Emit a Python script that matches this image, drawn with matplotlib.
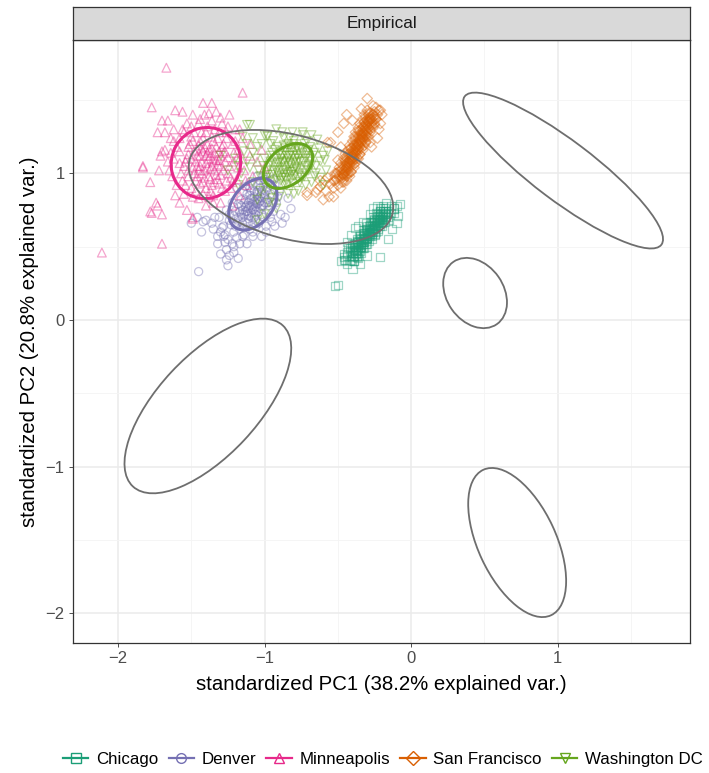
import matplotlib.pyplot as plt
import numpy as np
from matplotlib.patches import Ellipse, Rectangle
from matplotlib.lines import Line2D

plt.rcParams['font.family'] = ['Liberation Sans', 'DejaVu Sans']

# scores on the first two standardized PCs, per city
chicago = [
    (-0.38, 0.48), (-0.36, 0.50), (-0.34, 0.53), (-0.32, 0.55), (-0.30, 0.58), (-0.28, 0.60), (-0.26, 0.63),
    (-0.24, 0.65), (-0.22, 0.68), (-0.20, 0.70), (-0.18, 0.73), (-0.37, 0.44), (-0.35, 0.47), (-0.33, 0.49),
    (-0.31, 0.52), (-0.29, 0.54), (-0.27, 0.57), (-0.25, 0.59), (-0.23, 0.62), (-0.21, 0.64), (-0.19, 0.67),
    (-0.17, 0.70), (-0.39, 0.52), (-0.37, 0.54), (-0.35, 0.57), (-0.33, 0.59), (-0.31, 0.62), (-0.29, 0.64),
    (-0.27, 0.67), (-0.25, 0.69), (-0.23, 0.72), (-0.21, 0.74), (-0.19, 0.76), (-0.36, 0.46), (-0.33, 0.52),
    (-0.30, 0.55), (-0.28, 0.57), (-0.26, 0.60), (-0.25, 0.64), (-0.22, 0.66), (-0.21, 0.70), (-0.18, 0.69),
    (-0.16, 0.72), (-0.32, 0.57), (-0.29, 0.60), (-0.27, 0.62), (-0.24, 0.60), (-0.20, 0.66), (-0.34, 0.50),
    (-0.38, 0.45), (-0.40, 0.50), (-0.41, 0.44), (-0.36, 0.42), (-0.075, 0.79), (-0.19, 0.78), (-0.26, 0.76),
    (-0.33, 0.67), (-0.38, 0.63), (-0.43, 0.49), (-0.45, 0.41), (-0.40, 0.35), (-0.52, 0.23), (-0.50, 0.24),
    (-0.21, 0.43), (-0.16, 0.55), (-0.10, 0.66), (-0.12, 0.73), (-0.14, 0.78), (-0.10, 0.78), (-0.44, 0.38),
    (-0.42, 0.40), (-0.46, 0.45), (-0.35, 0.38), (-0.30, 0.44), (-0.41, 0.58), (-0.36, 0.64), (-0.13, 0.62),
    (-0.15, 0.68), (-0.44, 0.53), (-0.39, 0.40), (-0.31, 0.66), (-0.28, 0.72), (-0.23, 0.78), (-0.17, 0.80),
    (-0.12, 0.76), (-0.09, 0.71),
    (-0.40, 0.43), (-0.40, 0.47), (-0.39, 0.48), (-0.39, 0.44), (-0.38, 0.46), (-0.38, 0.50), (-0.37, 0.51),
    (-0.37, 0.47), (-0.36, 0.49), (-0.36, 0.53), (-0.35, 0.54), (-0.35, 0.50), (-0.34, 0.51), (-0.34, 0.55),
    (-0.33, 0.56), (-0.33, 0.53), (-0.32, 0.53), (-0.32, 0.58), (-0.31, 0.59), (-0.31, 0.55), (-0.30, 0.56),
    (-0.30, 0.60), (-0.29, 0.61), (-0.29, 0.58), (-0.28, 0.59), (-0.28, 0.63), (-0.27, 0.64), (-0.27, 0.60),
    (-0.26, 0.62), (-0.26, 0.66), (-0.25, 0.67), (-0.25, 0.63), (-0.24, 0.64), (-0.24, 0.68), (-0.23, 0.69),
    (-0.23, 0.66), (-0.22, 0.67), (-0.22, 0.71), (-0.21, 0.72), (-0.21, 0.68), (-0.20, 0.69), (-0.20, 0.73),
    (-0.19, 0.74), (-0.19, 0.71), (-0.18, 0.72), (-0.18, 0.76), (-0.395, 0.455), (-0.375, 0.48), (-0.355, 0.51),
    (-0.335, 0.535), (-0.315, 0.56), (-0.295, 0.585), (-0.275, 0.61), (-0.255, 0.64), (-0.235, 0.665),
    (-0.215, 0.69), (-0.195, 0.715), (-0.175, 0.74),
    (-0.48, 0.40), (-0.39, 0.40), (-0.46, 0.43), (-0.37, 0.43), (-0.44, 0.46), (-0.34, 0.46), (-0.42, 0.49),
    (-0.32, 0.49), (-0.40, 0.52), (-0.30, 0.52), (-0.37, 0.55), (-0.27, 0.55), (-0.35, 0.58), (-0.25, 0.58),
    (-0.33, 0.61), (-0.23, 0.61), (-0.30, 0.64), (-0.20, 0.64), (-0.28, 0.67), (-0.18, 0.67), (-0.26, 0.70),
    (-0.16, 0.70), (-0.24, 0.73), (-0.14, 0.73), (-0.21, 0.76), (-0.12, 0.76), (-0.46, 0.41), (-0.41, 0.41),
    (-0.44, 0.44), (-0.39, 0.44), (-0.42, 0.47), (-0.37, 0.47), (-0.39, 0.50), (-0.34, 0.50), (-0.37, 0.53),
    (-0.32, 0.53), (-0.35, 0.56), (-0.30, 0.56), (-0.32, 0.59), (-0.27, 0.59), (-0.30, 0.62), (-0.25, 0.62),
    (-0.28, 0.65), (-0.23, 0.65), (-0.25, 0.68), (-0.20, 0.68), (-0.23, 0.71), (-0.18, 0.71), (-0.21, 0.74),
    (-0.16, 0.74),
]
denver = [
    (-1.08, 0.79), (-1.05, 0.82), (-1.11, 0.76), (-1.02, 0.86), (-1.14, 0.72), (-1.00, 0.80), (-1.16, 0.78),
    (-1.06, 0.72), (-1.10, 0.85), (-0.98, 0.90), (-1.18, 0.68), (-1.03, 0.76), (-1.13, 0.82), (-1.07, 0.88),
    (-1.09, 0.70), (-0.95, 0.84), (-1.20, 0.74), (-1.04, 0.92), (-1.12, 0.66), (-1.01, 0.70), (-1.15, 0.88),
    (-0.97, 0.78), (-1.22, 0.80), (-1.06, 0.64), (-0.93, 0.92), (-1.24, 0.68), (-1.00, 0.96), (-1.17, 0.62),
    (-1.10, 0.94), (-0.92, 0.80), (-1.26, 0.75), (-1.08, 0.60), (-0.96, 0.70), (-1.19, 0.90), (-1.28, 0.64),
    (-0.90, 0.88), (-1.14, 0.58), (-1.05, 0.98), (-1.21, 0.60), (-0.99, 0.64), (-1.31, 0.70), (-0.94, 0.74),
    (-1.10, 0.78), (-1.07, 0.81), (-1.03, 0.84), (-1.12, 0.74), (-1.09, 0.83), (-1.06, 0.77), (-1.01, 0.78),
    (-1.15, 0.75), (-1.35, 0.62), (-1.32, 0.57), (-1.45, 0.33), (-1.25, 0.37), (-1.21, 0.46), (-1.21, 0.50),
    (-1.27, 0.53), (-1.27, 0.58), (-1.08, 0.57), (-1.02, 0.57), (-1.40, 0.68), (-1.34, 0.70), (-1.29, 0.63),
    (-1.28, 0.57), (-1.19, 0.56), (-1.15, 0.57), (-0.95, 0.67), (-0.89, 0.72), (-0.84, 0.83), (-0.82, 0.76),
    (-1.42, 0.67), (-1.46, 0.70), (-1.25, 0.55), (-1.24, 0.44), (-1.26, 0.48),
    (-1.08, 0.75), (-1.05, 0.79), (-1.11, 0.80), (-1.03, 0.81), (-1.13, 0.77), (-1.07, 0.84), (-1.09, 0.73),
    (-1.02, 0.88), (-1.15, 0.70), (-1.04, 0.74), (-1.12, 0.86), (-1.00, 0.84), (-1.17, 0.74), (-1.06, 0.68),
    (-1.01, 0.92), (-1.19, 0.66), (-1.10, 0.90), (-0.98, 0.82), (-1.16, 0.82), (-1.05, 0.86), (-1.11, 0.69),
    (-0.99, 0.88), (-1.14, 0.63), (-1.03, 0.95), (-1.21, 0.71), (-0.96, 0.92), (-1.08, 0.66), (-1.13, 0.91),
    (-1.06, 0.80), (-1.09, 0.77), (-1.04, 0.83), (-1.12, 0.72), (-1.18, 0.79), (-0.97, 0.75), (-1.23, 0.65),
    (-0.94, 0.96), (-1.30, 0.60), (-1.36, 0.66), (-1.32, 0.52), (-1.17, 0.52), (-1.12, 0.52), (-0.99, 0.60),
    (-0.93, 0.64), (-0.88, 0.66), (-0.86, 0.70), (-1.22, 0.52), (-1.30, 0.45), (-1.43, 0.60), (-1.50, 0.66),
    (-1.18, 0.42), (-1.26, 0.41),
    (-1.07, 0.76), (-1.04, 0.80), (-1.10, 0.82), (-1.02, 0.78), (-1.13, 0.74), (-1.05, 0.87), (-1.11, 0.71),
    (-1.00, 0.86), (-1.16, 0.72), (-1.07, 0.70), (-1.03, 0.90), (-1.14, 0.80), (-1.09, 0.88), (-0.98, 0.80),
    (-1.18, 0.70), (-1.06, 0.74), (-1.02, 0.72), (-1.12, 0.78), (-0.99, 0.94), (-1.20, 0.64), (-1.08, 0.92),
    (-0.96, 0.86), (-1.15, 0.66), (-1.04, 0.66), (-1.21, 0.77), (-0.94, 0.80), (-1.10, 0.62), (-1.01, 0.98),
    (-1.24, 0.72), (-0.91, 0.84),
]
minneapolis = [
    (-1.40, 1.07), (-1.35, 1.10), (-1.45, 1.02), (-1.38, 0.98), (-1.42, 1.15), (-1.30, 1.05), (-1.50, 1.10),
    (-1.33, 1.18), (-1.47, 0.95), (-1.25, 1.00), (-1.55, 1.05), (-1.36, 1.25), (-1.44, 1.22), (-1.28, 1.14),
    (-1.52, 0.98), (-1.40, 0.90), (-1.31, 0.93), (-1.21, 1.08), (-1.58, 1.15), (-1.48, 1.28), (-1.39, 1.32),
    (-1.26, 1.24), (-1.18, 1.16), (-1.60, 0.92), (-1.35, 0.85), (-1.23, 0.90), (-1.14, 1.02), (-1.62, 1.22),
    (-1.53, 1.34), (-1.29, 1.34), (-1.20, 1.30), (-1.10, 1.12), (-1.08, 0.98), (-1.45, 0.83), (-1.55, 0.86),
    (-1.30, 0.80), (-1.17, 0.85), (-1.66, 1.08), (-1.41, 1.40), (-1.33, 1.42), (-1.24, 1.40), (-1.15, 1.24),
    (-1.05, 1.08), (-1.12, 0.92), (-1.37, 1.12), (-1.43, 1.08), (-1.34, 1.02), (-1.46, 1.16), (-1.39, 1.20),
    (-1.32, 0.96), (-1.27, 1.08), (-1.49, 1.04), (-1.41, 0.97), (-1.36, 1.05), (-1.44, 1.12), (-1.30, 1.12),
    (-1.51, 1.20), (-1.57, 1.00), (-1.22, 1.20), (-1.62, 1.30), (-1.10, 1.20), (-1.00, 1.04), (-1.02, 1.16),
    (-1.19, 0.96), (-1.26, 0.95), (-1.50, 0.90), (-1.63, 0.98), (-1.68, 1.16), (-1.58, 0.80), (-1.40, 0.78),
    (-1.22, 0.78), (-1.67, 1.72), (-1.77, 1.45), (-1.61, 1.43), (-1.56, 1.42), (-1.70, 1.36), (-1.66, 1.36),
    (-1.73, 1.28), (-1.68, 1.28), (-1.64, 1.24), (-1.70, 1.15), (-1.71, 1.12), (-1.83, 1.05), (-1.72, 1.02),
    (-1.42, 1.48), (-1.36, 1.48), (-1.49, 1.40), (-1.38, 1.41), (-1.30, 1.38), (-1.15, 1.55), (-2.11, 0.46),
    (-1.70, 0.52), (-1.83, 1.04), (-1.77, 0.73), (-1.70, 0.72), (-1.78, 0.94), (-1.74, 0.80), (-1.78, 0.74),
    (-1.49, 0.70), (-1.53, 0.75), (-1.61, 0.85), (-1.49, 0.69), (-1.73, 0.78),
    (-1.40, 1.12), (-1.37, 1.03), (-1.43, 1.00), (-1.34, 1.14), (-1.47, 1.08), (-1.31, 1.09), (-1.45, 1.19),
    (-1.38, 1.16), (-1.33, 0.99), (-1.48, 1.00), (-1.42, 1.24), (-1.28, 1.02), (-1.52, 1.13), (-1.35, 1.22),
    (-1.29, 1.18), (-1.44, 0.93), (-1.36, 0.92), (-1.54, 1.08), (-1.25, 1.11), (-1.40, 1.28), (-1.31, 1.28),
    (-1.50, 1.25), (-1.56, 0.95), (-1.27, 0.88), (-1.42, 0.86), (-1.49, 0.84), (-1.23, 0.97), (-1.58, 1.24),
    (-1.34, 1.30), (-1.18, 1.04), (-1.21, 1.14), (-1.45, 1.34), (-1.56, 1.30), (-1.62, 1.10), (-1.37, 0.88),
    (-1.32, 1.06), (-1.39, 1.04), (-1.41, 1.18), (-1.46, 1.12), (-1.35, 1.08), (-1.15, 1.10), (-1.13, 0.95),
    (-1.17, 1.30), (-1.25, 1.32), (-1.65, 1.02),
    (-1.52, 1.02), (-1.48, 1.15), (-1.36, 1.17), (-1.30, 0.99), (-1.44, 1.05), (-1.38, 1.10), (-1.34, 0.94),
    (-1.46, 0.98), (-1.27, 1.15), (-1.52, 1.18), (-1.43, 1.28), (-1.32, 1.24), (-1.58, 1.07), (-1.24, 1.05),
    (-1.47, 0.88), (-1.38, 0.84), (-1.29, 0.90), (-1.55, 1.28), (-1.36, 1.36), (-1.20, 1.22), (-1.60, 1.18),
    (-1.22, 0.94), (-1.42, 0.94), (-1.33, 1.09), (-1.41, 1.02), (-1.49, 1.22), (-1.26, 1.28), (-1.44, 1.37),
    (-1.54, 0.92), (-1.64, 1.14), (-1.19, 1.10), (-1.35, 0.80), (-1.50, 1.32), (-1.28, 1.20), (-1.39, 1.14),
    (-1.46, 1.05), (-1.31, 1.15), (-1.53, 1.10), (-1.37, 0.96), (-1.43, 1.17),
]
san_francisco = [
    (-0.44, 1.04), (-0.42, 1.09), (-0.40, 1.12), (-0.38, 1.15), (-0.36, 1.20), (-0.35, 1.23), (-0.33, 1.27),
    (-0.31, 1.29), (-0.29, 1.33), (-0.27, 1.37), (-0.41, 1.01), (-0.39, 1.06), (-0.37, 1.10), (-0.35, 1.13),
    (-0.34, 1.17), (-0.31, 1.21), (-0.30, 1.25), (-0.28, 1.30), (-0.25, 1.33), (-0.24, 1.37), (-0.47, 1.03),
    (-0.45, 1.09), (-0.43, 1.13), (-0.41, 1.17), (-0.39, 1.19), (-0.38, 1.25), (-0.36, 1.29), (-0.33, 1.31),
    (-0.32, 1.35), (-0.29, 1.40), (-0.43, 1.00), (-0.40, 1.08), (-0.38, 1.12), (-0.37, 1.16), (-0.35, 1.18),
    (-0.33, 1.24), (-0.31, 1.26), (-0.29, 1.31), (-0.27, 1.34), (-0.26, 1.40), (-0.46, 0.99), (-0.44, 1.07),
    (-0.42, 1.05), (-0.39, 1.10), (-0.36, 1.16), (-0.34, 1.21), (-0.32, 1.23), (-0.30, 1.28), (-0.28, 1.36),
    (-0.25, 1.39), (-0.49, 0.97), (-0.47, 0.94), (-0.50, 0.92), (-0.52, 0.95), (-0.48, 0.90), (-0.46, 0.96),
    (-0.44, 0.98), (-0.51, 1.00), (-0.53, 0.90), (-0.55, 0.93), (-0.30, 1.51), (-0.22, 1.43), (-0.44, 1.40),
    (-0.46, 1.34), (-0.28, 1.21), (-0.57, 1.21), (-0.71, 0.87), (-0.65, 0.87), (-0.62, 0.91), (-0.59, 0.95),
    (-0.52, 1.00), (-0.50, 1.09), (-0.71, 0.85), (-0.64, 0.89), (-0.62, 0.95), (-0.57, 0.97), (-0.55, 1.21),
    (-0.26, 1.46), (-0.24, 1.45), (-0.20, 1.40), (-0.50, 1.28), (-0.22, 1.30), (-0.21, 1.34), (-0.58, 0.88),
    (-0.56, 0.84), (-0.53, 0.84), (-0.60, 0.82), (-0.48, 1.18), (-0.23, 1.24), (-0.27, 1.18), (-0.40, 1.36),
    (-0.34, 1.44),
    (-0.47, 0.97), (-0.47, 1.00), (-0.46, 1.02), (-0.46, 0.98), (-0.45, 1.01), (-0.45, 1.05), (-0.44, 1.02),
    (-0.44, 1.06), (-0.43, 1.08), (-0.43, 1.04), (-0.42, 1.07), (-0.42, 1.11), (-0.41, 1.13), (-0.41, 1.09),
    (-0.40, 1.15), (-0.40, 1.10), (-0.39, 1.13), (-0.39, 1.17), (-0.38, 1.19), (-0.38, 1.14), (-0.37, 1.21),
    (-0.37, 1.18), (-0.36, 1.24), (-0.36, 1.19), (-0.35, 1.21), (-0.35, 1.26), (-0.34, 1.27), (-0.34, 1.23),
    (-0.33, 1.29), (-0.33, 1.25), (-0.32, 1.32), (-0.32, 1.27), (-0.31, 1.34), (-0.31, 1.30), (-0.30, 1.36),
    (-0.30, 1.32), (-0.29, 1.38), (-0.29, 1.35), (-0.28, 1.41), (-0.28, 1.37), (-0.465, 0.99), (-0.445, 1.03),
    (-0.425, 1.07), (-0.405, 1.12), (-0.385, 1.16), (-0.365, 1.20), (-0.345, 1.24), (-0.325, 1.28),
    (-0.305, 1.33), (-0.285, 1.37), (-0.455, 1.00), (-0.435, 1.05), (-0.415, 1.09), (-0.395, 1.14),
    (-0.375, 1.18), (-0.355, 1.22), (-0.335, 1.26), (-0.315, 1.31), (-0.295, 1.35), (-0.275, 1.39),
    (-0.53, 0.95), (-0.44, 0.95), (-0.52, 0.98), (-0.42, 0.98), (-0.50, 1.01), (-0.41, 1.01), (-0.49, 1.04),
    (-0.39, 1.04), (-0.48, 1.07), (-0.38, 1.07), (-0.46, 1.10), (-0.36, 1.10), (-0.45, 1.13), (-0.35, 1.13),
    (-0.43, 1.16), (-0.33, 1.16), (-0.42, 1.19), (-0.32, 1.19), (-0.40, 1.22), (-0.31, 1.22), (-0.39, 1.25),
    (-0.29, 1.25), (-0.38, 1.28), (-0.28, 1.28), (-0.36, 1.31), (-0.26, 1.31), (-0.35, 1.34), (-0.25, 1.34),
    (-0.33, 1.37), (-0.24, 1.37), (-0.32, 1.40), (-0.23, 1.40), (-0.30, 1.43), (-0.21, 1.43), (-0.51, 0.96),
    (-0.46, 0.94), (-0.49, 0.99), (-0.44, 0.99), (-0.48, 1.02), (-0.43, 1.02), (-0.46, 1.05), (-0.41, 1.05),
    (-0.45, 1.08), (-0.40, 1.08), (-0.44, 1.11), (-0.39, 1.11), (-0.42, 1.14), (-0.37, 1.14), (-0.41, 1.17),
    (-0.36, 1.17), (-0.39, 1.20), (-0.34, 1.20), (-0.38, 1.23), (-0.33, 1.23), (-0.36, 1.26), (-0.31, 1.26),
    (-0.35, 1.29), (-0.30, 1.29), (-0.33, 1.32), (-0.28, 1.32), (-0.32, 1.35), (-0.27, 1.35), (-0.31, 1.38),
    (-0.26, 1.38), (-0.29, 1.41), (-0.25, 1.42),
]
washington_dc = [
    (-0.84, 1.05), (-0.80, 1.08), (-0.88, 1.02), (-0.78, 1.12), (-0.90, 0.98), (-0.75, 1.04), (-0.93, 1.06),
    (-0.82, 0.96), (-0.86, 1.14), (-0.72, 1.10), (-0.96, 0.94), (-0.79, 0.99), (-0.89, 1.10), (-0.83, 1.18),
    (-0.85, 0.92), (-0.70, 1.16), (-0.98, 1.02), (-0.76, 0.94), (-0.91, 1.18), (-0.68, 1.06), (-1.00, 0.90),
    (-0.80, 1.22), (-0.94, 0.88), (-0.73, 0.98), (-0.87, 1.24), (-0.66, 1.14), (-1.03, 0.98), (-0.77, 0.88),
    (-0.95, 1.14), (-0.65, 1.00), (-1.06, 1.10), (-0.84, 0.86), (-0.71, 1.22), (-1.02, 1.20), (-0.62, 1.08),
    (-1.10, 1.04), (-0.90, 0.84), (-0.74, 1.26), (-1.08, 0.94), (-0.60, 1.12), (-1.14, 1.15), (-0.98, 1.26),
    (-0.81, 1.28), (-0.68, 0.94), (-1.16, 1.00), (-0.86, 1.04), (-0.82, 1.06), (-0.87, 1.08), (-0.80, 1.02),
    (-0.85, 1.00), (-0.78, 1.07), (-0.91, 1.04), (-1.20, 1.10), (-1.25, 1.02), (-1.18, 0.92), (-1.05, 0.82),
    (-0.97, 0.80), (-1.00, 0.72), (-0.92, 0.76), (-1.10, 1.33), (-1.00, 1.26), (-0.74, 1.28), (-0.64, 1.23),
    (-0.98, 1.25), (-1.12, 1.33), (-0.59, 1.09), (-0.62, 0.97), (-1.05, 0.68), (-1.30, 1.12), (-0.58, 1.02),
    (-0.60, 0.92),
    (-0.84, 1.10), (-0.88, 1.07), (-0.81, 1.12), (-0.92, 1.02), (-0.77, 1.10), (-0.95, 0.99), (-0.74, 1.14),
    (-0.87, 0.99), (-0.79, 1.15), (-0.90, 1.08), (-0.83, 1.01), (-0.76, 1.08), (-0.86, 1.17), (-0.93, 1.10),
    (-0.80, 0.98), (-0.71, 1.12), (-0.97, 1.05), (-0.89, 0.95), (-0.78, 1.18), (-0.82, 1.14), (-0.85, 1.08),
    (-0.72, 1.05), (-0.94, 0.95), (-0.86, 0.97), (-0.79, 1.04), (-0.83, 1.12), (-0.88, 1.12), (-0.81, 1.01),
    (-0.76, 1.00), (-0.91, 1.00), (-0.75, 1.17), (-0.69, 1.10), (-0.99, 0.97), (-0.84, 1.20), (-0.87, 0.93),
    (-0.73, 1.20), (-0.96, 1.12), (-0.81, 0.93), (-0.69, 1.18), (-1.01, 1.05), (-1.05, 1.18), (-1.12, 1.08),
    (-1.08, 1.24), (-0.94, 1.22), (-0.88, 1.28), (-0.70, 1.02), (-0.66, 0.98), (-0.72, 0.92), (-0.80, 0.86),
    (-0.95, 0.83), (-1.03, 0.88), (-1.15, 1.25), (-0.92, 1.30), (-0.68, 1.26), (-0.63, 1.17), (-0.57, 1.15),
    (-0.83, 1.07), (-0.86, 1.02), (-0.79, 1.10), (-0.91, 1.07), (-0.76, 1.13), (-0.88, 0.97), (-0.81, 1.17),
    (-0.94, 1.02), (-0.74, 1.08), (-0.85, 1.12), (-0.90, 1.13), (-0.78, 1.03), (-0.82, 0.99), (-0.96, 1.08),
    (-0.71, 1.15), (-0.87, 1.19), (-0.80, 1.20), (-0.92, 0.96), (-0.73, 1.02), (-0.98, 0.99), (-0.77, 1.16),
    (-0.85, 0.95), (-0.89, 1.15), (-0.70, 1.08), (-1.04, 1.02), (-0.75, 0.97), (-0.83, 1.24), (-0.93, 1.16),
    (-0.67, 1.12), (-1.08, 1.14), (-1.00, 1.10), (-0.96, 1.20), (-0.65, 1.05), (-1.12, 1.20), (-1.18, 1.05),
]

cities = ['Chicago', 'Denver', 'Minneapolis', 'San Francisco', 'Washington DC']
scores = [chicago, denver, minneapolis, san_francisco, washington_dc]
colors = ['#1B9E77', '#7570B3', '#E7298A', '#D95F02', '#66A61E']
markers = ['s', 'o', '^', 'D', 'v']
msizes = [34, 34, 40, 28, 40]

# group ellipses: centre x, centre y, semi-major, semi-minor, angle (deg)
group_cx = [-0.29, -1.08, -1.40, -0.36, -0.84]
group_cy = [0.60, 0.79, 1.07, 1.19, 1.05]
group_a = [0.0, 0.20, 0.245, 0.0, 0.19]
group_b = [0.0, 0.135, 0.235, 0.0, 0.125]
group_ang = [0, 50, 60, 0, 38]

# grey reference ellipses
ref_cx = [-0.82, 1.036, 0.436, -1.387, 0.723]
ref_cy = [0.907, 1.019, 0.184, -0.586, -1.517]
ref_a = [0.716, 0.84, 0.259, 0.75, 0.547]
ref_b = [0.354, 0.205, 0.194, 0.34, 0.266]
ref_ang = [-15, -37, -55, 47, -65]

fig = plt.figure(figsize=(7.09, 7.73), dpi=100)
ax = fig.add_axes([73 / 709, 130 / 773, 617 / 709, 603 / 773])

for pts, c, m, s in zip(scores, colors, markers, msizes):
    p = np.array(pts)
    ax.scatter(p[:, 0], p[:, 1], s=s, marker=m, facecolors='none',
               edgecolors=c, linewidths=0.9, alpha=0.42, zorder=2)

for cx, cy, a, b, ang, c in zip(group_cx, group_cy, group_a, group_b, group_ang, colors):
    if a > 0:
        ax.add_patch(Ellipse((cx, cy), 2 * a, 2 * b, angle=ang, fill=False,
                             edgecolor=c, linewidth=2.2, zorder=3))

for cx, cy, a, b, ang in zip(ref_cx, ref_cy, ref_a, ref_b, ref_ang):
    ax.add_patch(Ellipse((cx, cy), 2 * a, 2 * b, angle=ang, fill=False,
                         edgecolor='#6E6E6E', linewidth=1.3, zorder=4))

ax.set_xlim(-2.307, 1.902)
ax.set_ylim(-2.202, 1.909)
ax.set_xticks([-2, -1, 0, 1])
ax.set_yticks([-2, -1, 0, 1])
ax.set_xticks([-1.5, -0.5, 0.5, 1.5], minor=True)
ax.set_yticks([-1.5, -0.5, 0.5, 1.5], minor=True)
ax.set_xticklabels(['\u22122', '\u22121', '0', '1'])
ax.set_yticklabels(['\u22122', '\u22121', '0', '1'])
ax.grid(True, which='major', color='#EBEBEB', linewidth=1.1, zorder=0)
ax.grid(True, which='minor', color='#F4F4F4', linewidth=0.6, zorder=0)
ax.set_axisbelow(True)
ax.tick_params(which='major', length=3, width=0.6, color='#333333',
               labelsize=12, labelcolor='#4D4D4D', pad=3)
ax.tick_params(which='minor', length=0)
for sp in ax.spines.values():
    sp.set_color('#333333')
    sp.set_linewidth(0.9)

ax.set_xlabel('standardized PC1 (38.2% explained var.)', fontsize=14.7, labelpad=6)
ax.set_ylabel('standardized PC2 (20.8% explained var.)', fontsize=14.7, labelpad=5)

# facet strip
strip = fig.add_axes([73 / 709, 733 / 773, 617 / 709, 33 / 773])
strip.add_patch(Rectangle((0, 0), 1, 1, transform=strip.transAxes,
                          facecolor='#D9D9D9', edgecolor='none'))
strip.set_xticks([])
strip.set_yticks([])
for sp in strip.spines.values():
    sp.set_color('#333333')
    sp.set_linewidth(0.9)
strip.text(0.5, 0.5, 'Empirical', ha='center', va='center', fontsize=12.3, color='#1A1A1A')

handles = [Line2D([0], [0], color=c, marker=m, markerfacecolor='none',
                  markersize=7, linewidth=1.6, markeredgewidth=1.0)
           for c, m in zip(colors, markers)]
fig.legend(handles, cities, loc='center', bbox_to_anchor=(0.54, 0.017), ncol=5,
           frameon=False, fontsize=12.2, handlelength=1.5, handletextpad=0.45,
           columnspacing=0.6)

fig.savefig('out.png', dpi=100)
